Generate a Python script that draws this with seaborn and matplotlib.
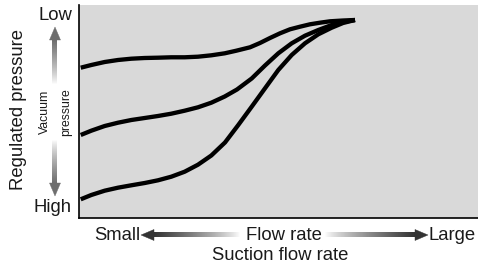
import numpy as np
import pandas as pd
import matplotlib
matplotlib.use("Agg")
import matplotlib.pyplot as plt
from matplotlib.patches import Polygon
from matplotlib.colors import LinearSegmentedColormap
import seaborn as sns

# ---- data (x: suction flow rate, y: vacuum level, arbitrary 0-100 units)
x_low = [0.43, 3.08, 6.44, 9.77, 13.11, 16.47, 19.80, 23.13, 26.49, 29.82, 33.16, 36.52,
         39.42, 42.86, 45.36, 47.87, 50.38, 52.88, 55.39, 57.89, 60.40, 62.91, 66.17, 69.17]
y_low = [70.56, 71.83, 73.24, 74.18, 74.79, 75.12, 75.26, 75.45, 75.45, 75.73, 76.38, 77.32,
         78.54, 80.14, 82.16, 84.51, 86.71, 88.59, 89.81, 90.94, 91.69, 92.35, 92.72, 92.96]

x_mid = [0.43, 3.08, 6.44, 9.77, 13.11, 16.47, 19.80, 23.13, 26.49, 29.82, 33.16,
         36.52, 39.60, 43.28, 46.62, 49.95, 53.31, 56.64, 59.97, 63.33, 66.17, 69.17]
y_mid = [38.97, 40.99, 43.19, 44.74, 46.01, 46.95, 47.89, 48.97, 50.38, 51.97, 54.13,
         57.04, 60.33, 65.49, 71.60, 77.32, 82.02, 85.59, 88.26, 90.61, 92.02, 92.96]

x_high = [0.43, 3.08, 6.44, 9.77, 13.11, 16.47, 19.80, 23.13, 26.49, 29.82, 33.16,
          36.59, 39.92, 43.28, 46.62, 49.95, 53.31, 56.64, 59.97, 63.33, 66.17, 69.17]
y_high = [8.78, 10.80, 12.82, 14.23, 15.35, 16.43, 17.70, 19.39, 21.74, 25.02, 29.34,
          35.45, 43.66, 52.25, 60.89, 69.48, 76.53, 82.02, 86.24, 89.34, 91.55, 92.96]

curve_names = ["low", "mid", "high"]
y_labels = ["Low", "High"]
x_labels = ["Small", "Flow rate", "Large"]
axis_titles = ["Regulated pressure", "Suction flow rate"]
inner_label = ["Vacuum", "pressure"]

frames = []
for name, xs, ys in zip(curve_names, [x_low, x_mid, x_high], [y_low, y_mid, y_high]):
    frames.append(pd.DataFrame({"flow": xs, "pressure": ys, "curve": name}))
df = pd.concat(frames, ignore_index=True)

sns.set_theme(style="white")
plt.rcParams["font.family"] = ["Liberation Sans", "DejaVu Sans"]

W, H = 478, 275
fig = plt.figure(figsize=(W / 100, H / 100), dpi=100)
ax = fig.add_axes([79 / W, 1 - 218 / H, (478 - 79) / W, (218 - 5) / H])
ax.set_facecolor("#d9d9d9")

sns.lineplot(data=df, x="flow", y="pressure", hue="curve", sort=False,
             palette=["black"] * 3, linewidth=3.1, legend=False, ax=ax,
             solid_capstyle="butt", solid_joinstyle="round")
ax.set_xlim(0, 100)
ax.set_ylim(0, 100)
ax.set_xticks([])
ax.set_yticks([])
ax.set_xlabel("")
ax.set_ylabel("")
for s in ["top", "right"]:
    ax.spines[s].set_visible(False)
for s in ["left", "bottom"]:
    ax.spines[s].set_visible(True)
    ax.spines[s].set_color("black")
    ax.spines[s].set_linewidth(1.2)

# overlay in pixel coordinates for decorations (arrows and texts)
ov = fig.add_axes([0, 0, 1, 1], zorder=5)
ov.set_xlim(0, W)
ov.set_ylim(H, 0)
ov.axis("off")
ov.patch.set_alpha(0)


def grad_arrow(tail, tip, dark, light, shaft_px, head_len, head_w, gamma=1.0):
    cmap = LinearSegmentedColormap.from_list("g", [light, dark])
    (x0, y0), (x1, y1) = tail, tip
    g = np.linspace(0, 1, 256) ** gamma
    if y0 == y1:  # horizontal
        d = 1 if x1 > x0 else -1
        base = x1 - d * head_len
        img = g[None, :] if d > 0 else g[None, ::-1]
        ov.imshow(img, cmap=cmap, vmin=0, vmax=1, aspect="auto", interpolation="bilinear",
                  extent=[min(x0, base), max(x0, base), y0 + shaft_px / 2, y0 - shaft_px / 2])
        pts = [(x1, y1), (base, y1 - head_w / 2), (base, y1 + head_w / 2)]
    else:  # vertical
        d = 1 if y1 > y0 else -1
        base = y1 - d * head_len
        img = g[:, None] if d > 0 else g[::-1, None]
        ov.imshow(img, cmap=cmap, vmin=0, vmax=1, aspect="auto", interpolation="bilinear",
                  extent=[x0 - shaft_px / 2, x0 + shaft_px / 2, max(y0, base), min(y0, base)])
        pts = [(x1, y1), (x1 - head_w / 2, base), (x1 + head_w / 2, base)]
    ov.add_patch(Polygon(pts, closed=True, facecolor=dark, edgecolor=dark, linewidth=0.3))


# horizontal arrows
grad_arrow((240, 235), (141, 235), "#333333", "#ffffff", 4.5, 13, 11, gamma=0.8)
grad_arrow((325, 235), (428, 235), "#333333", "#ffffff", 4.5, 13, 11, gamma=0.8)
# vertical arrows
grad_arrow((55, 84), (55, 27), "#6e6e6e", "#ffffff", 5, 13, 11, gamma=0.8)
grad_arrow((55, 140), (55, 196), "#6e6e6e", "#ffffff", 5, 13, 11, gamma=0.8)
ov.set_xlim(0, W)
ov.set_ylim(H, 0)

fs = 13.3
tk = dict(color="#1a1a1a")
ov.text(72, 15, y_labels[0], ha="right", va="center", fontsize=fs, **tk)
ov.text(72, 208, y_labels[1], ha="right", va="center", fontsize=fs, **tk)
ov.text(19, 109, axis_titles[0], ha="center", va="center", rotation=90, fontsize=fs, **tk)
ov.text(45, 112, inner_label[0], ha="center", va="center", rotation=90, fontsize=8.8, **tk)
ov.text(66, 112, inner_label[1], ha="center", va="center", rotation=90, fontsize=8.8, **tk)

ov.text(140, 235, x_labels[0], ha="right", va="center", fontsize=fs, **tk)
ov.text(284, 235, x_labels[1], ha="center", va="center", fontsize=fs, **tk)
ov.text(429, 235, x_labels[2], ha="left", va="center", fontsize=fs, **tk)
ov.text(280, 256, axis_titles[1], ha="center", va="center", fontsize=fs, **tk)

fig.savefig("out.png", dpi=100, facecolor="white")
